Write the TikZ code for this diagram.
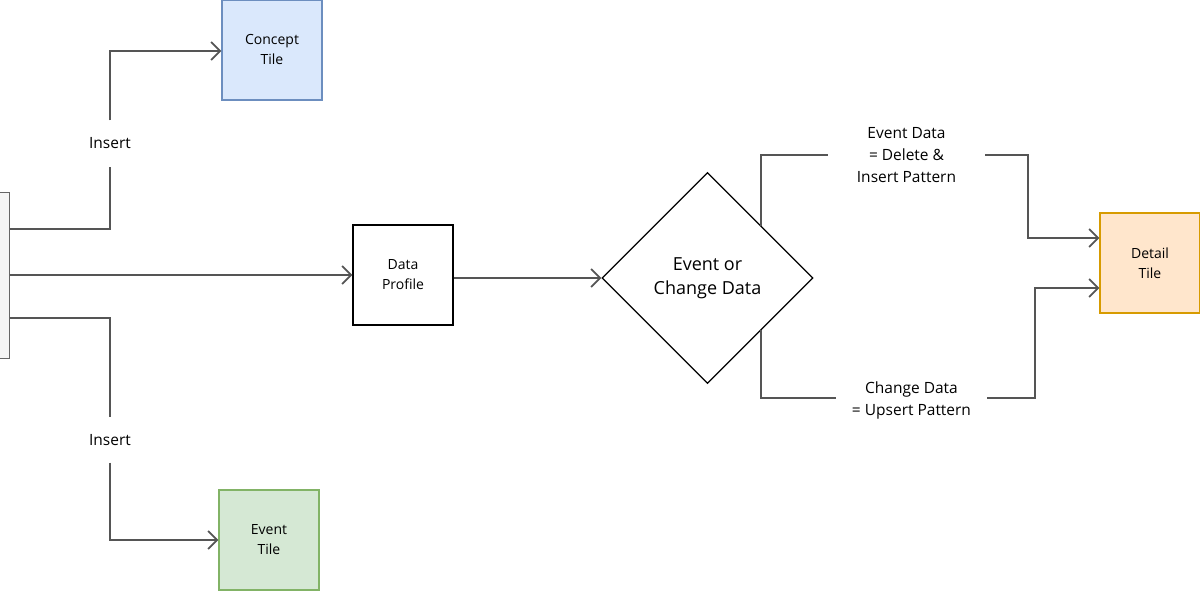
\documentclass[tikz,border=0pt]{standalone}
\usepackage{fontspec}
\setmainfont{Open Sans}
\usetikzlibrary{shapes.geometric,arrows.meta,calc}
\definecolor{lineg}{HTML}{555555}
\definecolor{bluef}{HTML}{DAE8FC}\definecolor{blued}{HTML}{6C8EBF}
\definecolor{greenf}{HTML}{D5E8D4}\definecolor{greend}{HTML}{82B366}
\definecolor{orangef}{HTML}{FFE6CC}\definecolor{oranged}{HTML}{D79B00}
\definecolor{grayf}{HTML}{F5F5F5}\definecolor{grayd}{HTML}{666666}
\tikzset{
  tile/.style={draw, line width=1.2pt, minimum width=100pt, minimum height=100pt, inner sep=0pt, align=center,
    font=\fontsize{14}{20}\selectfont},
  conn/.style={draw=lineg, line width=1.8pt},
  arr/.style={conn, -{Straight Barb[length=9pt,width=18pt,line width=1.8pt]}},
  elabel/.style={inner sep=0pt, align=center, font=\fontsize{15.5}{22}\selectfont},
}
\begin{document}
\begin{tikzpicture}[x=1pt,y=-1pt]
\useasboundingbox (0,0) rectangle (1200,591);
% nodes
\node[draw=grayd, fill=grayf, line width=1pt, minimum width=12pt, minimum height=165pt, inner sep=0pt] (src) at (3,275.5) {};
\node[tile, draw=blued, fill=bluef] (concept) at (272,50) {Concept\\Tile};
\node[tile, draw=greend, fill=greenf] (event) at (269,540) {Event\\Tile};
\node[tile, draw=black] (profile) at (403,275) {Data\\Profile};
\node[draw=black, line width=1.2pt, diamond, aspect=1, minimum width=211pt, minimum height=211pt, inner sep=0pt,
  align=center, font=\fontsize{18}{24}\selectfont] (dia) at (707.5,278) {Event or\\Change Data};
\node[tile, draw=oranged, fill=orangef] (detail) at (1150,263) {Detail\\Tile};
\node[elabel, minimum width=10pt, minimum height=46pt] (ins1) at (110,143.5) {Insert};
\node[elabel, minimum width=10pt, minimum height=45pt] (ins2) at (110,440) {Insert};
\node[elabel, minimum width=157pt] (lab1) at (906.5,155) {Event Data\\= Delete \&\\Insert Pattern};
\node[elabel, minimum width=151pt] (lab2) at (911.5,400) {Change Data\\= Upsert Pattern};
% connectors
\draw[conn] ([yshift=46.5pt]src.east) -| (ins1.south);
\draw[arr] (ins1.north) |- ([yshift=-1pt]concept.west);
\draw[arr] ([yshift=0.5pt]src.east) -- (profile.west);
\draw[conn] ([yshift=-42.5pt]src.east) -| (ins2.north);
\draw[arr] (ins2.south) |- (event.west);
\draw[arr] (profile.east |- dia.west) -- (dia.west);
\draw[conn] ([xshift=0.75pt,yshift=-0.75pt]dia.north east) |- (lab1.west);
\draw[arr] (lab1.east) -- (1028,155) |- ([yshift=25pt]detail.west);
\draw[conn] ([xshift=0.75pt,yshift=0.75pt]dia.south east) |- ([yshift=2pt]lab2.west);
\draw[arr] ([yshift=2pt]lab2.east) -- (1035,398) |- ([yshift=-25pt]detail.west);
\end{tikzpicture}
\end{document}
